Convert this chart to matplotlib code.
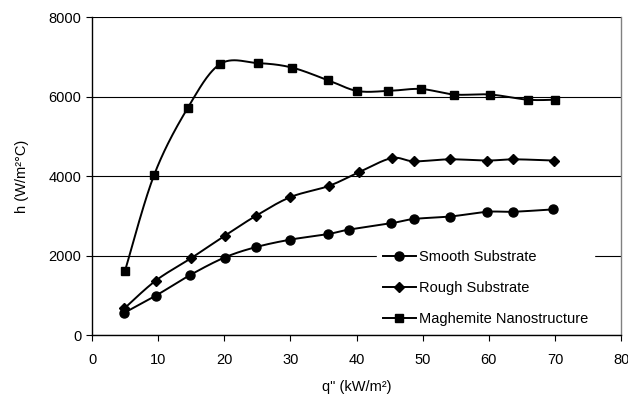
import numpy as np
import matplotlib.pyplot as plt

plt.rcParams['font.family'] = ['Liberation Sans', 'DejaVu Sans']

# data
q_smooth = [4.9, 9.65, 14.85, 20.05, 24.75, 30.0, 35.7, 38.8, 45.2, 48.7, 54.1, 59.8, 63.6, 69.7]
h_smooth = [560, 990, 1510, 1950, 2210, 2400, 2540, 2650, 2810, 2920, 2980, 3100, 3100, 3160]

q_rough = [4.9, 9.65, 14.95, 20.1, 24.8, 30.0, 35.8, 40.4, 45.3, 48.7, 54.1, 59.8, 63.7, 69.8]
h_rough = [670, 1370, 1930, 2500, 3000, 3470, 3750, 4100, 4450, 4370, 4420, 4390, 4420, 4390]

q_mag = [5.0, 9.4, 14.5, 19.4, 25.1, 30.2, 35.7, 40.1, 44.8, 49.7, 54.8, 60.2, 65.9, 70.0]
h_mag = [1620, 4030, 5720, 6820, 6840, 6730, 6410, 6140, 6140, 6190, 6050, 6050, 5920, 5920]


def smooth(x, y, n=30):
    # Excel-style smoothed line: cubic Bezier segments, Catmull-Rom control points
    x = np.asarray(x, float)
    y = np.asarray(y, float)
    px = np.concatenate([[x[0]], x, [x[-1]]])
    py = np.concatenate([[y[0]], y, [y[-1]]])
    t = np.linspace(0, 1, n)[:, None]
    xs, ys = [], []
    for i in range(1, len(px) - 2):
        p0 = np.array([px[i], py[i]])
        p3 = np.array([px[i + 1], py[i + 1]])
        c1 = p0 + (np.array([px[i + 1], py[i + 1]]) - np.array([px[i - 1], py[i - 1]])) / 6
        c2 = p3 - (np.array([px[i + 2], py[i + 2]]) - np.array([px[i], py[i]])) / 6
        pts = ((1 - t) ** 3) * p0 + 3 * ((1 - t) ** 2) * t * c1 + 3 * (1 - t) * t ** 2 * c2 + t ** 3 * p3
        xs.append(pts[:, 0])
        ys.append(pts[:, 1])
    return np.concatenate(xs), np.concatenate(ys)


fig = plt.figure(figsize=(6.28, 3.96), dpi=100)
ax = fig.add_axes([0.1465, 0.154, 0.8425, 0.803])

series = [
    (q_smooth, h_smooth, 'o', 6.5, 'Smooth Substrate'),
    (q_rough, h_rough, 'D', 5.0, 'Rough Substrate'),
    (q_mag, h_mag, 's', 5.8, 'Maghemite Nanostructure'),
]
handles = []
for q, h, m, ms, lab in series:
    sx, sy = smooth(q, h)
    ax.plot(sx, sy, color='black', lw=1.4, zorder=3)
    ax.plot(q, h, linestyle='none', marker=m, ms=ms, color='black', zorder=4)
    hd, = ax.plot([], [], color='black', lw=1.4, marker=m, ms=ms, label=lab)
    handles.append(hd)

ax.set_xlim(0, 80)
ax.set_ylim(0, 8000)
ax.set_xticks(range(0, 81, 10))
ax.set_yticks(range(0, 8001, 2000))
ax.yaxis.grid(True, color='black', lw=0.8)
ax.set_axisbelow(True)
ax.tick_params(labelsize=10.5, length=4, width=0.8, direction='out', colors='black')
ax.tick_params(axis='x', pad=9)
for s in ['left', 'bottom']:
    ax.spines[s].set_color('black')
    ax.spines[s].set_linewidth(1.0)
ax.spines['top'].set_visible(False)
ax.spines['right'].set_color('#808080')
ax.spines['right'].set_linewidth(1.0)

ax.set_xlabel('q" (kW/m²)', fontsize=10.5, labelpad=9)
ax.set_ylabel('h (W/m²°C)', fontsize=10.5, labelpad=14)

leg = ax.legend(handles=handles, loc='lower right', bbox_to_anchor=(0.963, -0.013),
                frameon=True, fancybox=False, edgecolor='white', facecolor='white',
                framealpha=1, fontsize=10.5, handlelength=2.3, handletextpad=0.2,
                labelspacing=1.15, borderpad=0.4)
leg.set_zorder(5)

fig.savefig('out.png', dpi=100)
